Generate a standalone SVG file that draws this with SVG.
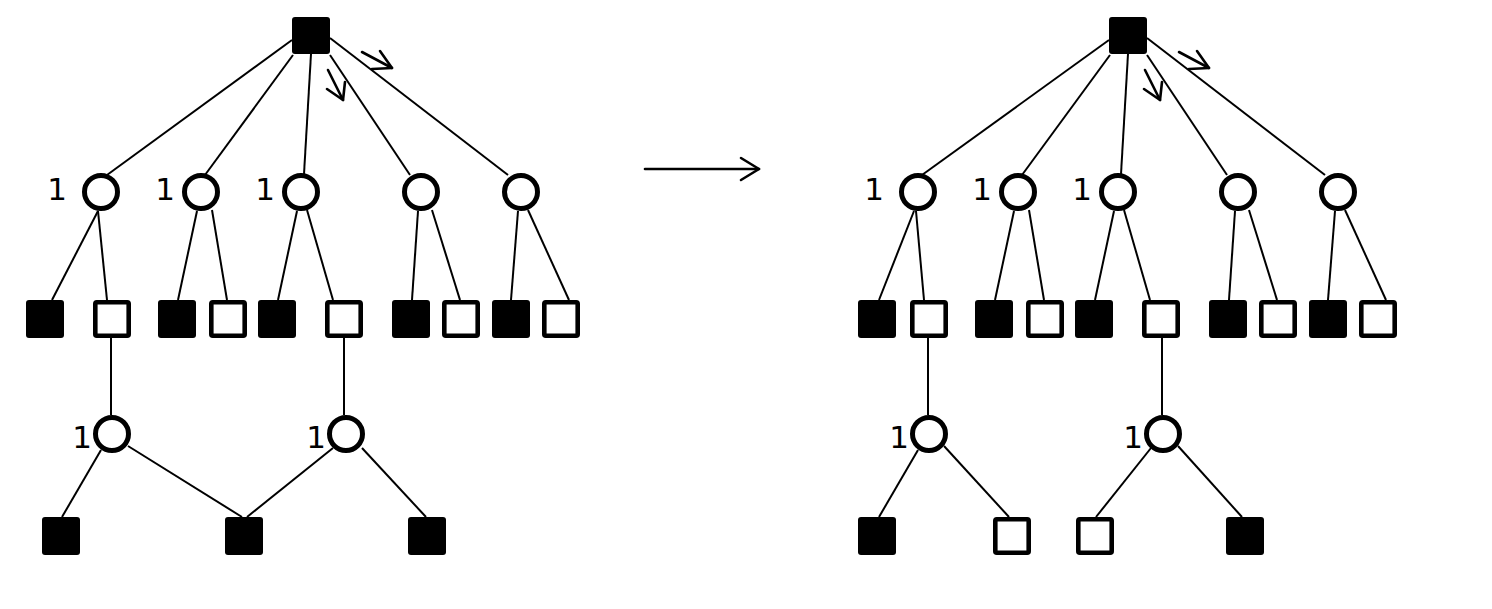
<svg xmlns="http://www.w3.org/2000/svg" width="1492" height="609" viewBox="0 0 1492 609">
<style>
.e{stroke:#000;stroke-width:2;fill:none}
.a{stroke:#000;stroke-width:2.6;fill:none;stroke-linecap:round;stroke-linejoin:round}
.c{fill:#fff;stroke:#000;stroke-width:5}
.f{fill:#000}
.o{fill:#fff;stroke:#000;stroke-width:4.6}
.t{font-family:"DejaVu Sans",sans-serif;font-size:31px;fill:#000;text-anchor:middle}
</style>
<rect width="1492" height="609" fill="#fff"/>
<g id="connectors">
<line class="e" x1="292" y1="40" x2="107" y2="175"/>
<line class="e" x1="293" y1="55" x2="205" y2="175"/>
<line class="e" x1="311" y1="54" x2="304" y2="174"/>
<line class="e" x1="330" y1="55" x2="410" y2="175"/>
<line class="e" x1="330" y1="38" x2="508" y2="175"/>
<line class="e" x1="98" y1="211" x2="52" y2="300"/>
<line class="e" x1="98" y1="211" x2="107" y2="300"/>
<line class="e" x1="197" y1="211" x2="178" y2="300"/>
<line class="e" x1="212" y1="210" x2="227" y2="300"/>
<line class="e" x1="297" y1="211" x2="278" y2="300"/>
<line class="e" x1="307" y1="210" x2="333" y2="300"/>
<line class="e" x1="418" y1="211" x2="412" y2="300"/>
<line class="e" x1="432" y1="210" x2="460" y2="300"/>
<line class="e" x1="518" y1="211" x2="511" y2="300"/>
<line class="e" x1="528" y1="210" x2="569" y2="300"/>
<line class="e" x1="111" y1="338" x2="111" y2="415"/>
<line class="e" x1="344" y1="338" x2="344" y2="415"/>
<line class="e" x1="101" y1="450" x2="62" y2="517"/>
<line class="e" x1="128" y1="446" x2="242" y2="517"/>
<line class="e" x1="333" y1="448" x2="247" y2="517"/>
<line class="e" x1="362" y1="448" x2="426" y2="517"/>
<line class="e" x1="1109" y1="40" x2="922" y2="175"/>
<line class="e" x1="1110" y1="55" x2="1022" y2="175"/>
<line class="e" x1="1128" y1="54" x2="1121" y2="174"/>
<line class="e" x1="1147" y1="55" x2="1227" y2="175"/>
<line class="e" x1="1147" y1="38" x2="1325" y2="175"/>
<line class="e" x1="914" y1="211" x2="879" y2="300"/>
<line class="e" x1="916" y1="211" x2="924" y2="300"/>
<line class="e" x1="1014" y1="211" x2="995" y2="300"/>
<line class="e" x1="1029" y1="210" x2="1044" y2="300"/>
<line class="e" x1="1114" y1="211" x2="1095" y2="300"/>
<line class="e" x1="1124" y1="210" x2="1150" y2="300"/>
<line class="e" x1="1235" y1="211" x2="1229" y2="300"/>
<line class="e" x1="1249" y1="210" x2="1277" y2="300"/>
<line class="e" x1="1335" y1="211" x2="1328" y2="300"/>
<line class="e" x1="1345" y1="210" x2="1386" y2="300"/>
<line class="e" x1="928" y1="338" x2="928" y2="415"/>
<line class="e" x1="1162" y1="338" x2="1162" y2="415"/>
<line class="e" x1="918" y1="450" x2="879" y2="517"/>
<line class="e" x1="944" y1="446" x2="1009" y2="517"/>
<line class="e" x1="1151" y1="448" x2="1096" y2="517"/>
<line class="e" x1="1178" y1="446" x2="1242" y2="517"/>
<polyline class="a" points="362,52 392,68"/>
<polyline class="a" points="380,51 392,68 372,69"/>
<polyline class="a" points="328,70 343,100"/>
<polyline class="a" points="327,89 343,100 345,82"/>
<polyline class="a" points="1179,52 1209,68"/>
<polyline class="a" points="1197,51 1209,68 1189,69"/>
<polyline class="a" points="1145,70 1160,100"/>
<polyline class="a" points="1144,89 1160,100 1162,82"/>
<polyline class="a" points="645,169 759,169"/>
<polyline class="a" points="741,158 759,169 741,180"/>
</g>
<g id="left-top"><rect class="f" x="292" y="17" width="38" height="37" rx="3"/></g>
<g id="left-c1"><circle class="c" cx="101" cy="192" r="16.5"/><text class="t" x="57" y="200">1</text></g>
<g id="left-c2"><circle class="c" cx="201" cy="192" r="16.5"/><text class="t" x="165" y="200">1</text></g>
<g id="left-c3"><circle class="c" cx="301" cy="192" r="16.5"/><text class="t" x="265" y="200">1</text></g>
<g id="left-c4"><circle class="c" cx="421" cy="192" r="16.5"/></g>
<g id="left-c5"><circle class="c" cx="521" cy="192" r="16.5"/></g>
<g id="left-f1"><rect class="f" x="26" y="300" width="38" height="38" rx="3"/></g>
<g id="left-o1"><rect class="o" x="95.3" y="302.3" width="33.4" height="33.4" rx="1.5"/></g>
<g id="left-f2"><rect class="f" x="158" y="300" width="38" height="38" rx="3"/></g>
<g id="left-o2"><rect class="o" x="211.3" y="302.3" width="33.4" height="33.4" rx="1.5"/></g>
<g id="left-f3"><rect class="f" x="258" y="300" width="38" height="38" rx="3"/></g>
<g id="left-o3"><rect class="o" x="327.3" y="302.3" width="33.4" height="33.4" rx="1.5"/></g>
<g id="left-f4"><rect class="f" x="392" y="300" width="38" height="38" rx="3"/></g>
<g id="left-o4"><rect class="o" x="444.3" y="302.3" width="33.4" height="33.4" rx="1.5"/></g>
<g id="left-f5"><rect class="f" x="492" y="300" width="38" height="38" rx="3"/></g>
<g id="left-o5"><rect class="o" x="544.3" y="302.3" width="33.4" height="33.4" rx="1.5"/></g>
<g id="left-c6"><circle class="c" cx="112" cy="434" r="16.5"/><text class="t" x="82" y="448">1</text></g>
<g id="left-c7"><circle class="c" cx="346" cy="434" r="16.5"/><text class="t" x="316" y="448">1</text></g>
<g id="left-b1"><rect class="f" x="42" y="517" width="38" height="38" rx="3"/></g>
<g id="left-b2"><rect class="f" x="225" y="517" width="38" height="38" rx="3"/></g>
<g id="left-b3"><rect class="f" x="408" y="517" width="38" height="38" rx="3"/></g>
<g id="right-top"><rect class="f" x="1109" y="17" width="38" height="37" rx="3"/></g>
<g id="right-c1"><circle class="c" cx="918" cy="192" r="16.5"/><text class="t" x="874" y="200">1</text></g>
<g id="right-c2"><circle class="c" cx="1018" cy="192" r="16.5"/><text class="t" x="982" y="200">1</text></g>
<g id="right-c3"><circle class="c" cx="1118" cy="192" r="16.5"/><text class="t" x="1082" y="200">1</text></g>
<g id="right-c4"><circle class="c" cx="1238" cy="192" r="16.5"/></g>
<g id="right-c5"><circle class="c" cx="1338" cy="192" r="16.5"/></g>
<g id="right-f1"><rect class="f" x="858" y="300" width="38" height="38" rx="3"/></g>
<g id="right-o1"><rect class="o" x="912.3" y="302.3" width="33.4" height="33.4" rx="1.5"/></g>
<g id="right-f2"><rect class="f" x="975" y="300" width="38" height="38" rx="3"/></g>
<g id="right-o2"><rect class="o" x="1028.3" y="302.3" width="33.4" height="33.4" rx="1.5"/></g>
<g id="right-f3"><rect class="f" x="1075" y="300" width="38" height="38" rx="3"/></g>
<g id="right-o3"><rect class="o" x="1144.3" y="302.3" width="33.4" height="33.4" rx="1.5"/></g>
<g id="right-f4"><rect class="f" x="1209" y="300" width="38" height="38" rx="3"/></g>
<g id="right-o4"><rect class="o" x="1261.3" y="302.3" width="33.4" height="33.4" rx="1.5"/></g>
<g id="right-f5"><rect class="f" x="1309" y="300" width="38" height="38" rx="3"/></g>
<g id="right-o5"><rect class="o" x="1361.3" y="302.3" width="33.4" height="33.4" rx="1.5"/></g>
<g id="right-c6"><circle class="c" cx="929" cy="434" r="16.5"/><text class="t" x="899" y="448">1</text></g>
<g id="right-c7"><circle class="c" cx="1163" cy="434" r="16.5"/><text class="t" x="1133" y="448">1</text></g>
<g id="right-b1"><rect class="f" x="858" y="517" width="38" height="38" rx="3"/></g>
<g id="right-b2"><rect class="o" x="995.3" y="519.3" width="33.4" height="33.4" rx="1.5"/></g>
<g id="right-b3"><rect class="o" x="1078.3" y="519.3" width="33.4" height="33.4" rx="1.5"/></g>
<g id="right-b4"><rect class="f" x="1226" y="517" width="38" height="38" rx="3"/></g>
</svg>
